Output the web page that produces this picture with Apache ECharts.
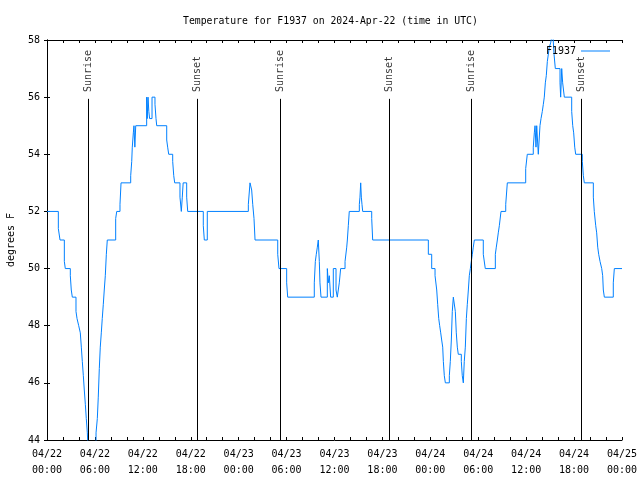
<!DOCTYPE html>
<html>
<head>
<meta charset="utf-8">
<script src="https://cdn.jsdelivr.net/npm/echarts@6/dist/echarts.min.js"></script>
<style>html,body{margin:0;padding:0;background:#fff;}#c{width:640px;height:480px;}</style>
</head>
<body>
<div id="c"></div>
<script>
// hours since 2024-04-22 00:00 UTC
var times = [
0,1.42,1.63,2.17,2.29,2.92,3.04,3.17,3.63,3.76,3.97,4.17,4.30,4.42,4.55,4.67,4.80,4.92,5.05,5.17,
6.14,6.30,6.42,6.55,6.67,6.80,6.92,7.05,7.17,7.30,7.43,7.55,8.60,8.73,9.14,9.27,10.48,10.61,10.68,10.81,
10.89,11.0,11.11,12.48,12.55,12.65,12.75,12.85,13.15,13.52,13.65,13.74,14.99,15.11,15.24,15.74,15.87,15.99,16.65,16.82,
16.94,17.05,17.49,17.62,19.57,19.70,20.07,
25.21,25.42,25.63,25.76,25.92,26.05,28.89,29.05,30.01,30.14,33.47,33.60,33.72,33.85,33.97,34.10,34.18,34.31,
35.10,35.22,35.35,35.52,35.85,36.19,36.35,36.60,36.77,37.32,37.53,37.61,37.73,37.85,39.11,39.19,39.28,39.36,39.44,39.53,40.66,40.78,
47.75,48.17,48.59,48.80,48.92,49.05,49.17,49.30,49.42,49.55,49.63,49.75,49.88,50.38,50.50,50.63,50.75,50.88,
51.13,51.25,51.38,51.50,51.88,52.00,52.13,52.25,52.38,52.51,52.63,52.76,52.88,53.01,53.13,53.26,53.38,53.51,
54.63,54.88,56.14,56.26,56.39,56.51,56.64,56.85,57.44,57.64,59.94,60.14,60.89,61.02,61.11,61.23,61.32,61.52,
61.73,61.86,62.02,62.15,62.27,62.40,62.52,62.65,62.77,62.90,63.07,63.32,63.49,63.65,64.24,64.32,64.45,64.57,64.78,
65.70,65.83,65.95,66.08,66.20,67.03,67.16,67.28,68.41,68.53,68.71,68.83,68.96,69.08,69.25,69.46,69.58,69.66,69.79,
70.91,71.04,72
];
var temps = [
52,51.4,51,50.25,50,49.75,49.25,49,48.5,48.25,48,47.75,47.25,46.75,46.25,45.75,45.25,44.75,44.25,43.5,
44.25,44.75,45.5,46.5,47.25,47.75,48.25,48.75,49.25,49.75,50.5,51,51.75,52,52.25,53,53.25,53.75,54.25,54.75,
55,54.25,55,56,55.25,56,55.5,55.25,56,55.75,55.25,55,54.5,54.25,54,53.75,53.25,53,52.5,52,
52.5,53,52.5,52,51.5,51,52,
52.25,53,52.75,52.25,51.75,51,50.5,50,49.5,49,49.5,50.25,50.5,50.75,51,50.25,49.5,49,
50,49.5,49.75,49,50,49.25,49,49.5,50,50.25,50.75,51,51.5,52,52.25,52.5,53,52.5,52.25,52,51.75,51,
50.5,50,49.75,49.25,48.75,48.25,48,47.75,47.5,47.25,46.75,46.25,46,46.25,46.75,47.5,48.5,49,
48.5,47.75,47.25,47,46.75,46.25,46,46.75,47.25,48.25,48.75,49.25,49.75,50,50.25,50.5,50.75,51,
50.5,50,50.5,50.75,51,51.25,51.5,52,52.25,53,53.5,54,54.25,54.75,55,54.25,55,54,
55,55.25,55.5,55.75,56,56.5,56.75,57.25,57.25,57.75,57.9,58.3,57.5,57,56.5,56,57,56.5,56,
55.5,55,54.75,54.25,54,53.75,53.25,53,52.5,52,51.5,51.25,50.75,50.5,50.25,50,49.75,49.25,49,
49.5,50,50
];
var xTickLabels = ['04/22\n00:00','04/22\n06:00','04/22\n12:00','04/22\n18:00','04/23\n00:00','04/23\n06:00','04/23\n12:00','04/23\n18:00','04/24\n00:00','04/24\n06:00','04/24\n12:00','04/24\n18:00','04/25\n00:00'];
var sunTimes = [5.17, 18.82, 29.22, 42.87, 53.13, 66.91];
var sunLabels = ['Sunrise','Sunset','Sunrise','Sunset','Sunrise','Sunset'];
var sunLineTop = 55.94;
var sunLabelBase = 56.18;

var FONT = 'DejaVu Sans Mono';
var data = times.map(function(t,i){return [t, temps[i]];});
var chart = echarts.init(document.getElementById('c'), null, {renderer:'canvas'});
var tickCommon = {show:true, inside:true, length:3, lineStyle:{color:'#000', width:1}};
var option = {
  animation:false,
  backgroundColor:'#fff',
  title:{text:'Temperature for F1937 on 2024-Apr-22 (time in UTC)', left:178, top:11,
    textStyle:{fontFamily:FONT, fontSize:9.8, fontWeight:'normal', color:'#000'}},
  legend:{data:['F1937'], right:25, top:41, align:'right', icon:'rect', itemWidth:29, itemHeight:1, itemGap:10,
    textStyle:{fontFamily:FONT, fontSize:10, color:'#000'}},
  grid:{left:47, right:18, top:40, bottom:40, containLabel:false, outerBoundsMode:'none'},
  xAxis:[{type:'value', min:0, max:72, interval:6, position:'bottom',
    axisLine:{show:true, lineStyle:{color:'#000', width:1}},
    axisTick:tickCommon,
    minorTick:{show:true, splitNumber:3, length:3, lineStyle:{color:'#000', width:1}},
    splitLine:{show:false},
    axisLabel:{margin:6, fontFamily:FONT, fontSize:10, color:'#000', lineHeight:16,
      formatter:function(v){return xTickLabels[Math.round(v/6)];}}},
   {type:'value', min:0, max:72, interval:6, position:'top',
    axisLine:{show:true, lineStyle:{color:'#000', width:1}},
    axisTick:tickCommon,
    minorTick:{show:true, splitNumber:3, length:3, lineStyle:{color:'#000', width:1}},
    splitLine:{show:false}, axisLabel:{show:false}}],
  yAxis:[{type:'value', min:44, max:58, interval:2, position:'left',
    name:'degrees F', nameLocation:'middle', nameGap:31, nameRotate:90,
    nameTextStyle:{fontFamily:FONT, fontSize:10, color:'#000'},
    axisLine:{show:true, lineStyle:{color:'#000', width:1}},
    axisTick:tickCommon, splitLine:{show:false},
    axisLabel:{margin:7, fontFamily:FONT, fontSize:10, color:'#000'}},
   {type:'value', min:44, max:58, interval:2, position:'right',
    axisLine:{show:true, lineStyle:{color:'#000', width:1}},
    axisTick:tickCommon, splitLine:{show:false}, axisLabel:{show:false}}],
  series:[
    {name:'F1937', type:'line', step:'end', data:data, symbol:'none', showSymbol:false,
     lineStyle:{color:'#0080ff', width:1}, itemStyle:{color:'#0080ff'}, clip:true, z:3,
     markLine:{silent:true, symbol:['none','none'], label:{show:false},
       lineStyle:{color:'#000', width:1, type:'solid'},
       data:sunTimes.map(function(t){return [{coord:[t,44]},{coord:[t,sunLineTop]}];})}},
    {name:'sun', type:'scatter', symbolSize:0, silent:true, z:4,
     data:sunTimes.map(function(t,i){return {value:[t,sunLabelBase], name:sunLabels[i]};}),
     label:{show:true, position:'inside', rotate:90, align:'left', verticalAlign:'middle',
       formatter:function(p){return p.name;}, fontFamily:FONT, fontSize:10, color:'#000'}}
  ]
};
chart.setOption(option);
</script>
</body>
</html>
